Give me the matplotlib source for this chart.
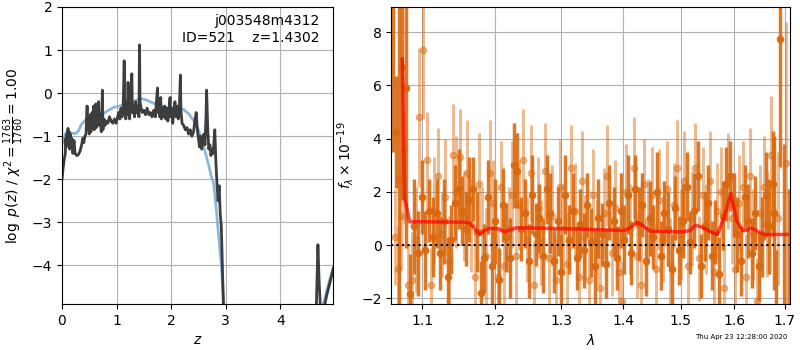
import matplotlib
matplotlib.use("Agg")
import matplotlib.pyplot as plt
from matplotlib.ticker import FixedLocator, FormatStrFormatter, NullLocator, NullFormatter

# left panel: log p(z)
z_pz = [0.00, 0.02, 0.04, 0.06, 0.07, 0.08, 0.09, 0.10, 0.11, 0.12, 0.13, 0.14, 0.15, 0.16, 0.18,
        0.20, 0.22, 0.24, 0.27, 0.30, 0.33, 0.36, 0.38, 0.40, 0.42, 0.44, 0.46, 0.47, 0.49, 0.50,
        0.52, 0.53, 0.55, 0.56, 0.58, 0.59, 0.61, 0.62, 0.63, 0.65, 0.66, 0.67, 0.68, 0.70, 0.72,
        0.74, 0.75, 0.77, 0.79, 0.81, 0.84, 0.87, 0.90, 0.93, 0.96, 0.99, 1.02, 1.04, 1.06, 1.08,
        1.10, 1.12, 1.14, 1.15, 1.17, 1.18, 1.20, 1.21, 1.22, 1.24, 1.26, 1.28, 1.29, 1.31, 1.33,
        1.35, 1.37, 1.39, 1.41, 1.42, 1.43, 1.45, 1.47, 1.50, 1.53, 1.56, 1.59, 1.62, 1.65, 1.68,
        1.71, 1.73, 1.75, 1.76, 1.78, 1.79, 1.81, 1.82, 1.84, 1.86, 1.88, 1.90, 1.92, 1.94, 1.96,
        1.98, 1.99, 2.01, 2.03, 2.05, 2.07, 2.09, 2.11, 2.13, 2.15, 2.17, 2.18, 2.20, 2.23, 2.26,
        2.29, 2.32, 2.35, 2.38, 2.41, 2.44, 2.46, 2.48, 2.50, 2.52, 2.54, 2.56, 2.58, 2.60, 2.62,
        2.64, 2.65, 2.67, 2.69, 2.71, 2.73, 2.75, 2.77, 2.80, 2.82, 2.84, 2.86, 2.88, 2.90, 2.92,
        2.95, 2.97, 3.10, 3.60, 4.10, 4.60, 4.66, 4.69, 4.71, 4.74, 4.77, 4.85, 4.92, 4.98]
logp = [-2.00, -1.75, -1.55, -1.40, -1.05, -1.25, -0.95, -1.15, -0.82, -1.20, -0.90, -1.30, -0.95, -1.25, -1.05,
        -1.40, -1.10, -1.40, -1.45, -1.43, -1.35, -1.20, -1.05, -1.15, -1.00, -0.95, -0.30, -0.85, -0.55, -0.95,
        -0.50, -0.90, -0.45, -0.75, -0.30, -0.85, -0.55, -0.25, -0.80, -0.40, -0.60, -0.20, -0.75, -0.50, -0.90,
        0.07, -0.85, -0.60, -0.75, -0.65, -0.70, -0.55, -0.65, -0.70, -0.60, -0.70, -0.55, -0.45, -0.60, -0.35,
        -0.55, -0.40, 0.75, -0.35, -0.60, -0.20, -0.50, 0.25, -0.40, -0.60, -0.10, 0.45, -0.45, -0.30, -0.55,
        -0.20, -0.45, -0.30, -0.55, 1.12, -0.20, -0.35, -0.45, -0.40, -0.50, -0.35, -0.50, -0.45, -0.55, -0.40,
        -0.55, -0.20, 0.12, -0.45, -0.15, -0.55, -0.10, -0.60, -0.35, -0.55, -0.30, -0.60, -0.35, -0.65, -0.40,
        -0.10, -0.55, -0.35, -0.70, -0.40, -0.20, -0.55, -0.30, -0.60, -0.35, 0.42, -0.40, -0.70, -0.75, -0.85,
        -0.80, -0.95, -0.85, -1.00, -0.90, -0.60, -0.45, -0.85, -1.05, -1.25, -1.00, -1.30, -1.10, -0.95, -1.20,
        -0.50, 0.07, -0.80, -1.30, -1.20, -1.45, -1.30, -1.40, -0.85, -1.60, -2.10, -2.50, -2.15, -2.80, -3.10,
        -4.50, -5.50, -9.0, -20.0, -14.0, -6.0, -5.0, -3.52, -4.30, -5.10, -5.20, -4.70, -4.35, -4.05]

z_prior = [0.00, 0.03, 0.07, 0.12, 0.18, 0.25, 0.30, 0.36, 0.45, 0.55, 0.65, 0.75, 0.85, 0.95, 1.05,
           1.15, 1.25, 1.35, 1.44, 1.55, 1.65, 1.75, 1.85, 1.95, 2.05, 2.15, 2.23, 2.32, 2.41, 2.50,
           2.56, 2.62, 2.68, 2.73, 2.78, 2.82, 2.87, 2.92, 2.96, 3.10, 4.60, 4.75, 4.80, 4.88, 4.97]
logp_prior = [-1.20, -1.05, -0.92, -0.90, -0.93, -0.94, -0.88, -0.72, -0.60, -0.55, -0.52, -0.48, -0.40, -0.33, -0.30,
              -0.26, -0.24, -0.17, -0.12, -0.16, -0.22, -0.27, -0.31, -0.34, -0.35, -0.36, -0.38, -0.48, -0.63, -0.85,
              -1.09, -1.35, -1.63, -1.90, -2.10, -2.60, -3.30, -4.00, -4.80, -7.0, -7.0, -5.00, -4.85, -4.45, -4.05]

# right panel: spectrum rows (lambda [um], flux, err)
spec_dark = [
    (1.062, 9.5, 6.0), (1.066, 4.25, 2.1), (1.070, 2.5, 7.0), (1.074, 6.7, 5.0), (1.079, 5.9, 6.0),
    (1.084, -1.85, 1.5), (1.089, 0.7, 1.8), (1.094, -0.3, 1.6), (1.099, 1.8, 1.4), (1.104, -0.2, 1.5),
    (1.109, 1.3, 1.2), (1.114, 0.3, 1.5), (1.119, 1.2, 1.3), (1.124, -0.3, 1.4), (1.129, 0.9, 1.6),
    (1.134, -1.2, 1.5), (1.139, 0.2, 1.3), (1.144, 1.6, 1.4), (1.149, 2.1, 1.5), (1.154, 1.3, 1.3),
    (1.159, 0.6, 1.4), (1.164, 1.7, 1.6), (1.169, 2.1, 1.2), (1.175, 0.5, 1.5), (1.180, -1.8, 1.2),
    (1.185, -0.5, 1.3), (1.190, 1.8, 1.4), (1.196, -0.8, 1.5), (1.201, 0.9, 1.6), (1.206, -1.3, 1.2),
    (1.212, 1.5, 1.4), (1.217, 0.3, 1.3), (1.222, -0.5, 1.5), (1.228, 3.0, 1.6), (1.233, 2.8, 1.4),
    (1.239, 0.6, 1.2), (1.244, 1.2, 1.3), (1.250, -0.6, 1.4), (1.255, 1.9, 1.5), (1.261, 0.4, 1.2),
    (1.266, 1.0, 1.3), (1.272, -0.4, 1.4), (1.278, 2.1, 1.3), (1.283, 1.2, 1.5), (1.289, -0.6, 1.2),
    (1.295, 0.9, 1.3), (1.300, -1.0, 1.4), (1.306, 1.9, 1.5), (1.312, 0.2, 1.3), (1.318, 1.3, 1.4),
    (1.324, -0.5, 1.2), (1.330, 0.8, 1.3), (1.335, -0.2, 1.4), (1.341, 1.5, 1.2), (1.347, 0.1, 1.3),
    (1.353, -0.8, 1.4), (1.359, 1.0, 1.5), (1.365, 0.4, 1.2), (1.371, -0.7, 1.3), (1.377, 1.6, 1.4),
    (1.384, 0.9, 1.3), (1.390, -0.5, 1.2), (1.396, 1.3, 1.4), (1.402, 0.2, 1.3), (1.408, 1.9, 1.5),
    (1.414, -0.3, 1.2), (1.421, 2.1, 1.3), (1.427, 0.8, 1.4), (1.433, 1.5, 1.2), (1.439, -0.6, 1.3),
    (1.446, 1.0, 1.4), (1.452, 0.3, 1.2), (1.459, 2.0, 1.5), (1.465, -0.4, 1.3), (1.471, 1.2, 1.2),
    (1.478, 0.6, 1.4), (1.484, -0.9, 1.3), (1.491, 1.4, 1.2), (1.497, -0.2, 1.3), (1.504, 0.9, 1.4),
    (1.511, 2.2, 1.3), (1.517, 0.1, 1.2), (1.524, 1.3, 1.4), (1.531, 2.6, 1.3), (1.537, -0.8, 1.2),
    (1.544, 0.7, 1.3), (1.551, 1.6, 1.4), (1.558, -0.4, 1.3), (1.564, 0.5, 1.2), (1.571, -1.1, 1.4),
    (1.578, 1.1, 1.3), (1.585, 2.3, 1.4), (1.592, 2.6, 1.3), (1.599, 1.5, 1.2), (1.606, 0.4, 1.4),
    (1.613, -0.6, 1.3), (1.620, 1.8, 1.2), (1.627, 0.9, 1.4), (1.634, -0.3, 1.3), (1.641, 1.2, 1.4),
    (1.648, -0.8, 1.3), (1.655, 0.3, 1.5), (1.662, 1.9, 1.6), (1.669, 0.7, 1.8), (1.676, 2.3, 2.0),
    (1.679, 1.2, 2.9), (1.683, -2.6, 2.4), (1.690, 7.75, 4.8), (1.699, -2.6, 6.4), (1.708, -2.6, 4.7),
]
spec_light = [
    (1.064, 0.3, 1.8), (1.068, -0.9, 1.6), (1.072, 1.1, 2.0), (1.076, 3.6, 2.8), (1.081, -1.5, 1.5),
    (1.086, -1.3, 1.8), (1.091, 0.2, 2.0), (1.096, 4.8, 2.6), (1.101, 7.35, 2.6), (1.106, 3.2, 1.8),
    (1.111, -1.5, 1.4), (1.116, 1.3, 2.0), (1.121, 2.6, 1.8), (1.126, 0.4, 1.6), (1.131, 1.8, 2.2),
    (1.136, -0.6, 1.7), (1.141, 3.4, 1.9), (1.146, 2.0, 2.1), (1.151, 3.3, 1.8), (1.156, 1.1, 1.7),
    (1.161, 2.7, 2.0), (1.166, 0.8, 1.8), (1.172, -1.2, 1.6), (1.177, 2.3, 1.9), (1.182, 0.5, 1.7),
    (1.188, -0.4, 1.8), (1.193, 2.7, 2.0), (1.198, 1.6, 1.6), (1.204, -1.2, 1.8), (1.209, 2.2, 1.7),
    (1.214, -0.8, 1.9), (1.220, 0.6, 1.6), (1.225, 1.9, 2.0), (1.231, -0.4, 1.8), (1.236, 1.5, 1.7),
    (1.242, 3.2, 1.9), (1.247, 0.2, 1.6), (1.253, 2.7, 1.8), (1.258, -1.5, 1.7), (1.264, 1.4, 1.9),
    (1.269, 0.1, 1.6), (1.275, 2.8, 1.8), (1.281, -0.5, 1.7), (1.286, 1.1, 1.9), (1.292, -1.3, 1.6),
    (1.298, 2.2, 1.8), (1.303, 0.6, 1.7), (1.309, -0.7, 1.9), (1.315, 2.9, 1.6), (1.321, 1.3, 1.8),
    (1.327, -1.2, 1.7), (1.333, 2.4, 1.9), (1.338, 0.3, 1.6), (1.344, -1.3, 1.8), (1.350, 1.9, 1.7),
    (1.356, 0.1, 1.6), (1.362, -1.6, 1.8), (1.368, 1.2, 1.7), (1.374, 2.6, 1.9), (1.381, -0.3, 1.6),
    (1.387, 1.4, 1.8), (1.393, -1.0, 1.7), (1.399, -2.1, 1.5), (1.405, 2.0, 1.8), (1.411, 0.6, 1.7),
    (1.418, 2.9, 1.9), (1.424, -0.4, 1.6), (1.430, -1.5, 1.8), (1.436, 2.3, 1.7), (1.443, 0.9, 1.6),
    (1.449, 1.9, 1.8), (1.456, -0.9, 1.7), (1.462, 1.7, 1.9), (1.468, 0.2, 1.6), (1.475, 2.1, 1.8),
    (1.481, -0.7, 1.7), (1.488, 1.5, 1.6), (1.494, 2.9, 1.8), (1.501, 0.4, 1.7), (1.507, 2.4, 1.9),
    (1.514, -0.8, 1.6), (1.521, 1.0, 1.8), (1.527, 2.9, 1.7), (1.534, -0.5, 1.6), (1.541, 1.9, 1.8),
    (1.547, 0.6, 1.7), (1.554, 2.4, 1.9), (1.561, -1.0, 1.6), (1.568, 1.3, 1.8), (1.575, 2.0, 1.7),
    (1.581, -1.6, 1.6), (1.588, 2.4, 1.8), (1.595, 1.0, 1.7), (1.602, -0.9, 1.6), (1.609, 1.6, 1.8),
    (1.616, 2.2, 1.7), (1.623, -1.2, 1.6), (1.630, 2.6, 1.8), (1.637, 0.4, 1.7), (1.644, -2.1, 1.6),
    (1.651, 1.2, 1.8), (1.658, 2.2, 1.9), (1.665, 0.8, 2.0), (1.672, 3.4, 2.2), (1.686, 1.0, 2.5),
    (1.703, 3.1, 5.3),
]

lam_model = [1.0738, 1.0768, 1.0833, 1.1575, 1.1650, 1.1786, 1.1850, 1.1930, 1.2050, 1.2147, 1.2250, 1.2319,
             1.3000, 1.3600, 1.4000, 1.4068, 1.4238, 1.4350, 1.4468, 1.4800, 1.5054, 1.5174, 1.5274, 1.5423,
             1.5550, 1.5680, 1.5800, 1.5935, 1.6050, 1.6160, 1.6250, 1.6320, 1.6450, 1.6587, 1.7060]
flux_model = [7.0, 1.8, 0.88, 0.86, 0.82, 0.40, 0.55, 0.63, 0.62, 0.50, 0.60, 0.65,
              0.62, 0.58, 0.55, 0.58, 0.85, 0.72, 0.52, 0.50, 0.50, 0.55, 0.75, 0.65,
              0.50, 0.40, 1.00, 1.94, 0.90, 0.55, 0.55, 0.65, 0.52, 0.40, 0.40]

lam_ticks = [1.1, 1.2, 1.3, 1.4, 1.5, 1.6, 1.7]
orange = '#d9690f'

fig = plt.figure(figsize=(8, 3.5), dpi=100)
ax1 = fig.add_axes([0.0775, 0.131, 0.339, 0.849])
ax2 = fig.add_axes([0.489, 0.131, 0.499, 0.849])

# p(z)
ax1.plot(z_prior, logp_prior, color='#7fb0d6', lw=2, alpha=0.9)
ax1.plot(z_pz, logp, color='#333333', lw=2, alpha=0.95)
ax1.set_xlim(0, 4.97)
ax1.set_ylim(-4.9, 2)
ax1.set_xticks([0, 1, 2, 3, 4])
ax1.set_yticks([-4, -3, -2, -1, 0, 1, 2])
ax1.grid(True, color='#b0b0b0')
ax1.set_xlabel('$z$')
ax1.set_ylabel(r'$\log\ p(z)$ / $\chi^2=\frac{1763}{1760}=1.00$')
ax1.text(0.95, 0.975, 'j003548m4312\nID=521    z=1.4302', transform=ax1.transAxes,
         ha='right', va='top', fontsize=10)

# spectrum
for rows, a, lw in [(spec_light, 0.45, 2.2), (spec_dark, 0.9, 2.5)]:
    lam = [r[0] for r in rows]
    flx = [r[1] for r in rows]
    err = [r[2] for r in rows]
    ax2.errorbar(lam, flx, yerr=err, fmt='o', color=orange, ms=4.5, elinewidth=lw,
                 capsize=0, alpha=a, zorder=2)
ax2.plot(lam_model, flux_model, color='red', lw=2.5, alpha=0.7, zorder=4)
ax2.axhline(0, color='k', ls=':', lw=1.5, zorder=5)

ax2.set_xscale('log')
ax2.set_xlim(1.0596, 1.7117)
ax2.set_ylim(-2.22, 8.95)
ax2.xaxis.set_major_locator(FixedLocator(lam_ticks))
ax2.xaxis.set_major_formatter(FormatStrFormatter('%.1f'))
ax2.xaxis.set_minor_locator(NullLocator())
ax2.xaxis.set_minor_formatter(NullFormatter())
ax2.set_yticks([-2, 0, 2, 4, 6, 8])
ax2.grid(True, color='#b0b0b0')
ax2.set_axisbelow(True)
ax2.set_xlabel(r'$\lambda$')
ax2.set_ylabel(r'$f_\lambda\times10^{-19}$')

fig.text(0.984, 0.028, 'Thu Apr 23 12:28:00 2020', ha='right', va='bottom', fontsize=5)

fig.savefig('out.png', dpi=100)
